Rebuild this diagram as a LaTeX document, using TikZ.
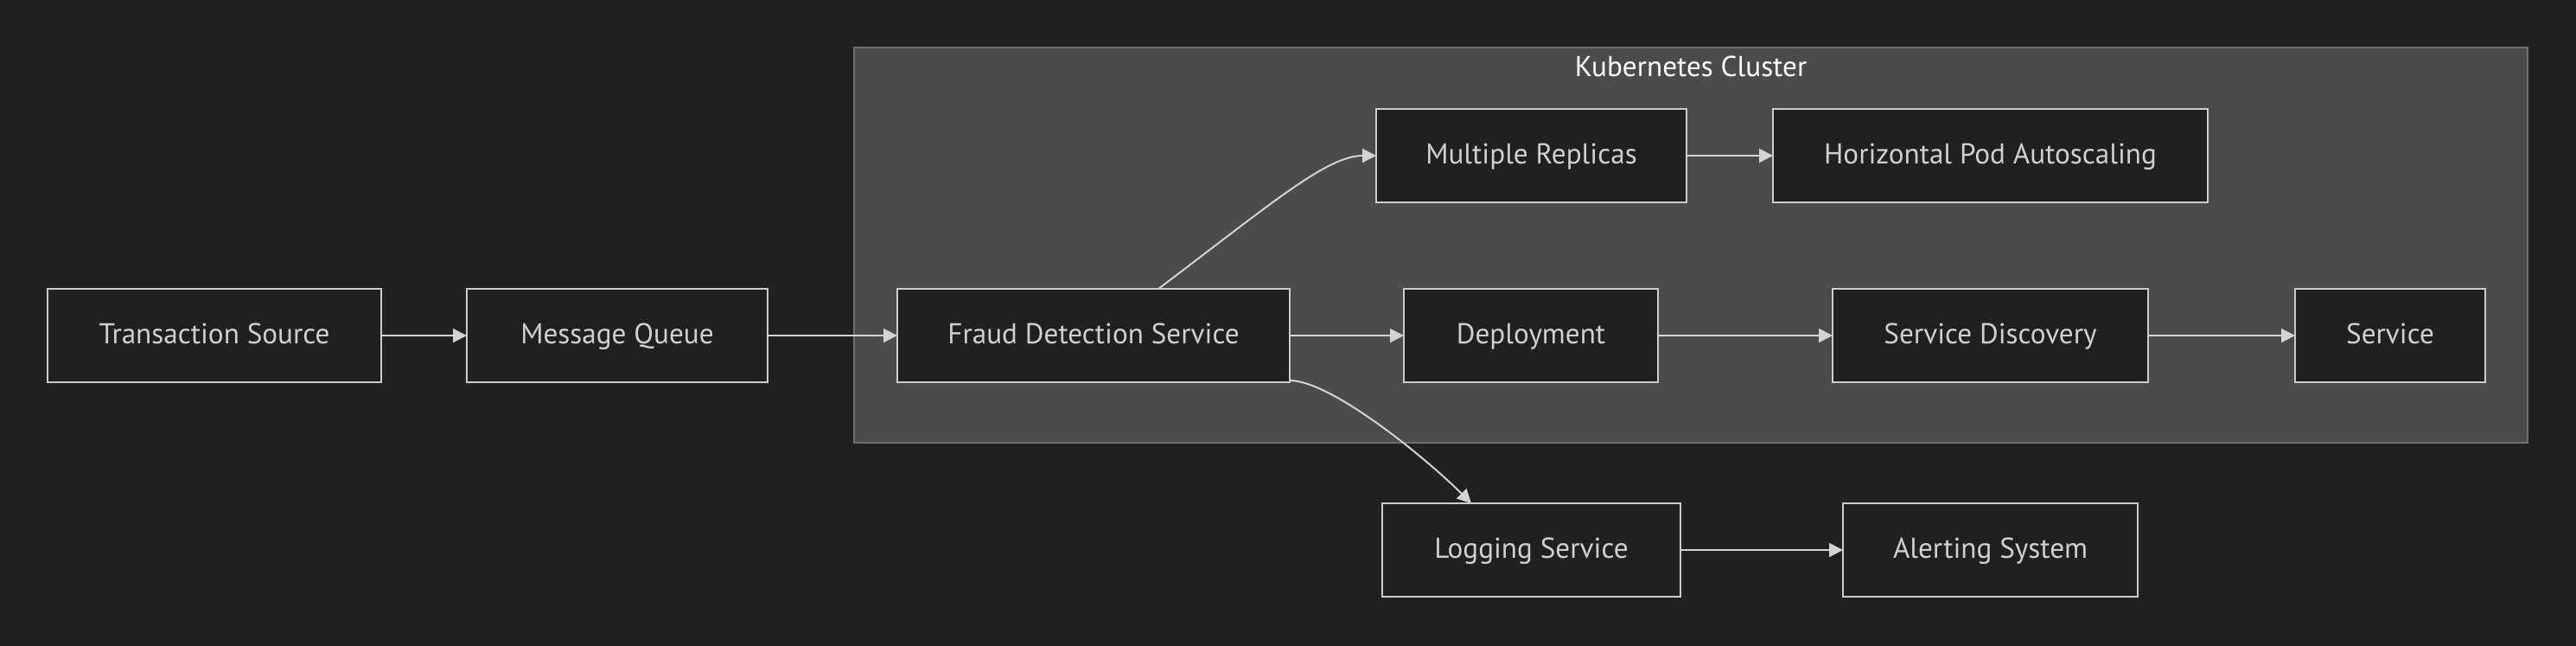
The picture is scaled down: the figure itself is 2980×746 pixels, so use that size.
\documentclass[tikz,border=0pt]{standalone}
\usepackage{fontspec}
\setmainfont{PT Sans}
\usetikzlibrary{arrows.meta}
\definecolor{bg}{HTML}{212121}
\definecolor{clfill}{HTML}{4A4B4A}
\definecolor{clline}{HTML}{6E6F6E}
\definecolor{nodefill}{HTML}{1F2020}
\definecolor{nodeline}{HTML}{CCCCCC}
\definecolor{txt}{HTML}{D0D0D0}
\definecolor{edge}{HTML}{D3D3D3}
\tikzset{
  lbl/.style={font=\fontsize{16.6pt}{19pt}\selectfont, text height=12pt, text depth=3pt},
  box/.style={lbl, draw=nodeline, fill=nodefill, line width=1pt, rectangle, minimum height=54pt,
    inner sep=0pt, outer sep=0pt, text=txt},
  conn/.style={draw=edge, line width=1pt, -{Triangle[length=8pt,width=8pt]}},
}
\begin{document}
\begin{tikzpicture}[x=0.5pt,y=-0.5pt]
\useasboundingbox (0,0) rectangle (2980,746);
\fill[bg] (-10,-10) rectangle (2990,756);
\filldraw[fill=clfill, draw=clline, line width=0.6pt] (988,55) rectangle (2924,512);
\node[lbl, text=white] (title) at (1956,79) {Kubernetes Cluster};
\node[box, minimum width=193pt] (ts) at (248,388) {Transaction Source};
\node[box, minimum width=174pt] (mq) at (714,388) {Message Queue};
\node[box, minimum width=227pt] (fds) at (1265,388) {Fraud Detection Service};
\node[box, minimum width=147pt] (dep) at (1771,388) {Deployment};
\node[box, minimum width=182.5pt] (sd) at (2302.5,388) {Service Discovery};
\node[box, minimum width=110pt] (svc) at (2765,388) {Service};
\node[box, minimum width=179.5pt] (mr) at (1771.5,180) {Multiple Replicas};
\node[box, minimum width=251.5pt] (hpa) at (2302.5,180) {Horizontal Pod Autoscaling};
\node[box, minimum width=172.5pt] (ls) at (1771.5,636) {Logging Service};
\node[box, minimum width=170.5pt] (as) at (2302.5,636) {Alerting System};
\draw[conn] (ts) -- (mq);
\draw[conn] (mq) -- (fds);
\draw[conn] (fds) -- (dep);
\draw[conn] (dep) -- (sd);
\draw[conn] (sd) -- (svc);
\draw[conn] (mr) -- (hpa);
\draw[conn] (ls) -- (as);
\draw[conn] (fds.north) ++(75,0) coordinate (fup) .. controls (1470,236) and (1535,180) .. (mr.west);
\draw[conn] (fds.south east) ++(0,-2) coordinate (fdn) .. controls (1540,440) and (1650,530) .. (ls.north -| 1702,0);
\end{tikzpicture}
\end{document}
